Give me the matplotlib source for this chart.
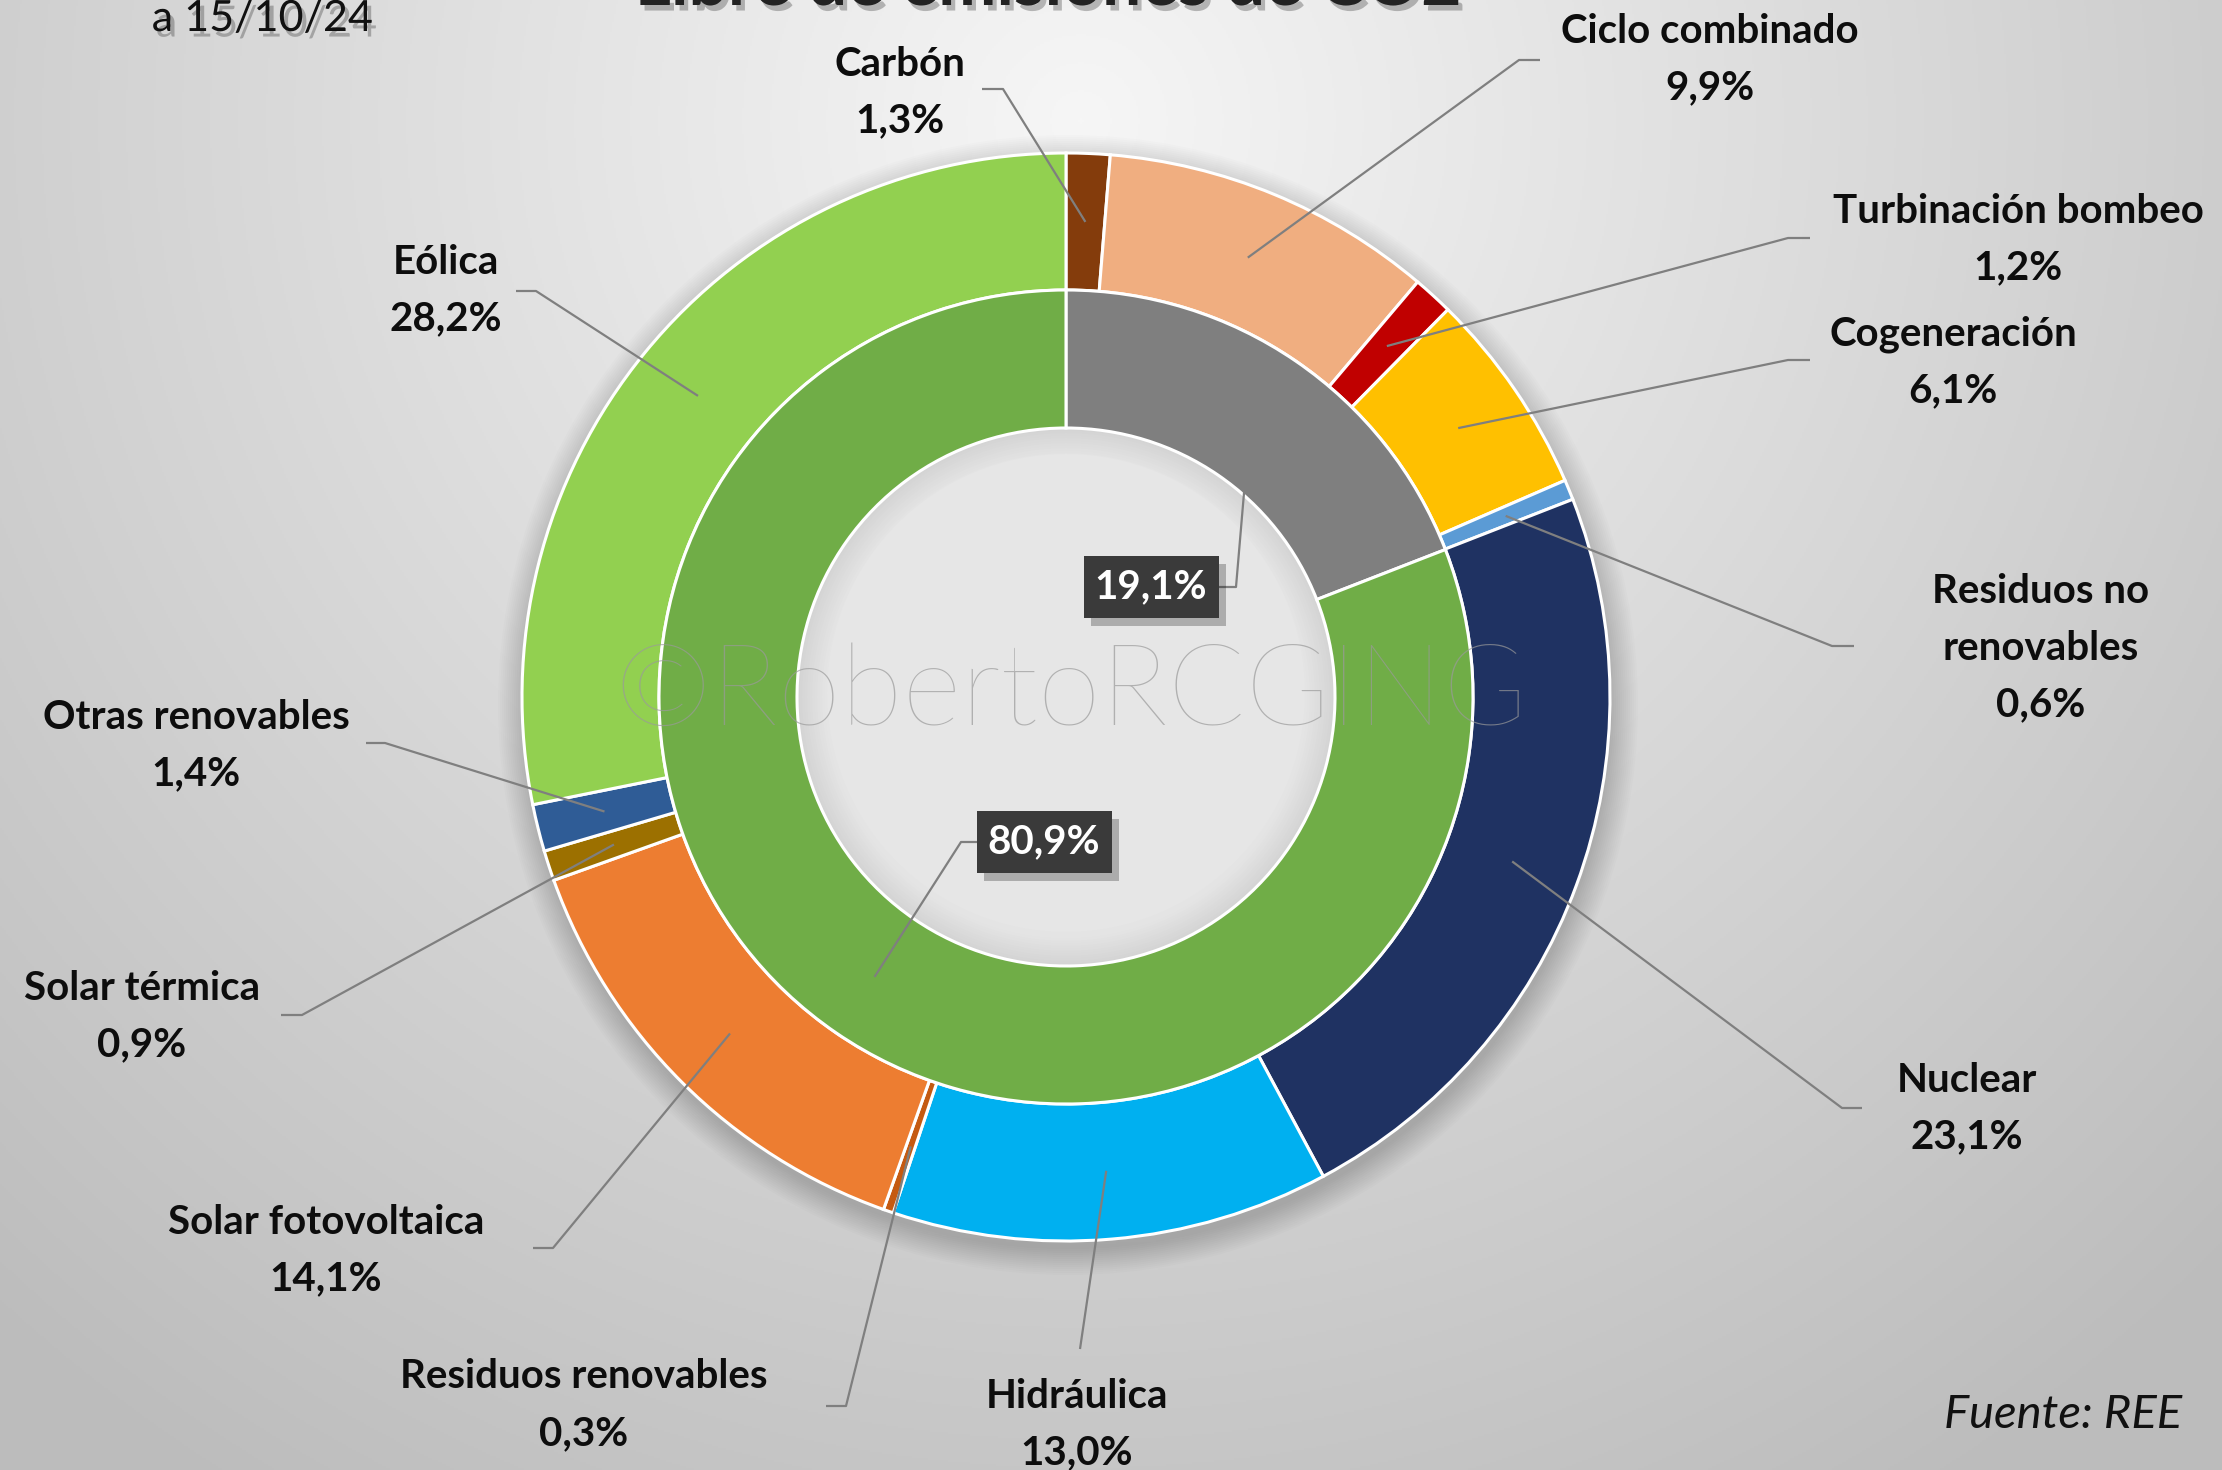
import numpy as np
import matplotlib
matplotlib.use("Agg")
import matplotlib.pyplot as plt
import matplotlib.patheffects as pe
from matplotlib.patches import Rectangle

W, H = 2222, 1470

# datos (REE, a 15/10/24)
outer_labels = ["Carbón", "Ciclo combinado", "Turbinación bombeo", "Cogeneración",
                "Residuos no\nrenovables", "Nuclear", "Hidráulica", "Residuos renovables",
                "Solar fotovoltaica", "Solar térmica", "Otras renovables", "Eólica"]
outer_values = [1.3, 9.9, 1.2, 6.1, 0.6, 23.1, 13.0, 0.3, 14.1, 0.9, 1.4, 28.2]
outer_colors = ["#843C0C", "#F0AE80", "#C00000", "#FFC000", "#5B9BD5", "#1F3262",
                "#00B0F0", "#C55A11", "#ED7D31", "#9C7000", "#2F5C96", "#92D050"]

inner_labels = ["Con emisiones", "Libre de emisiones"]
inner_values = [19.1, 80.9]
inner_colors = ["#7F7F7F", "#70AD47"]

# layout (pixels, y from top): text position, elbow, end of horizontal
label_pos = {
    "Carbón": ((900, 64), (1003, 89), (982, 89)),
    "Ciclo combinado": ((1710, 31), (1519, 60), (1540, 60)),
    "Turbinación bombeo": ((2018, 211), (1788, 238), (1810, 238)),
    "Cogeneración": ((1953, 334), (1788, 360), (1810, 360)),
    "Residuos no\nrenovables": ((2041, 591), (1832, 646), (1854, 646)),
    "Nuclear": ((1967, 1080), (1842, 1108), (1862, 1108)),
    "Hidráulica": ((1077, 1396), (1080, 1349), (1080, 1349)),
    "Residuos renovables": ((584, 1377), (846, 1406), (826, 1406)),
    "Solar fotovoltaica": ((326, 1222), (553, 1248), (533, 1248)),
    "Solar térmica": ((142, 988), (302, 1015), (281, 1015)),
    "Otras renovables": ((196, 717), (385, 743), (366, 743)),
    "Eólica": ((446, 262), (536, 291), (516, 291)),
}

cx, cy = 1066, 697
R_out, R_mid, R_in = 544, 407, 269
LINE = 57
FONT = "Lato"
FS = 29


def Y(y):
    return H - y


def pct(v):
    return f"{v:.1f}%".replace(".", ",")


def mid_point(values, i, r):
    total = sum(values)
    frac = (sum(values[:i]) + values[i] / 2) / total
    ang = np.deg2rad(90 - 360 * frac)
    return cx + r * np.cos(ang), Y(cy) + r * np.sin(ang)


fig = plt.figure(figsize=(W / 100, H / 100), dpi=100)
ax = fig.add_axes([0, 0, 1, 1])

# fondo con degradado radial (claro arriba en el centro)
xx, yy = np.meshgrid(np.arange(0, W, 2), np.arange(0, H, 2))
d = np.hypot(xx - 1080, yy - 120) / 1500
bg = np.clip(0.965 - 0.21 * d, 0.74, 1)
ax.imshow(np.dstack([bg, bg, bg]), extent=(0, W, 0, H), zorder=0, origin="upper")

# sombra del anillo
for k in range(14):
    ax.add_patch(plt.Circle((cx + 2, Y(cy) - 8), R_out + 26 - k * 2, color="black",
                            alpha=0.012, lw=0, zorder=1))

# hueco central
for k in range(12):
    shade = 0.83 + k * 0.006
    ax.add_patch(plt.Circle((cx, Y(cy)), R_in - k * 2.5, color=(shade, shade, shade),
                            lw=0, zorder=1))
ax.add_patch(plt.Circle((cx, Y(cy) + 4), R_in - 30, color="#e6e6e6", lw=0, zorder=1))

explode = [0.0] * len(outer_values)
explode[1] = 0.012
ax.pie(outer_values, colors=outer_colors, radius=R_out, center=(cx, Y(cy)),
       startangle=90, counterclock=False, explode=explode, frame=True,
       wedgeprops=dict(width=R_out - R_mid, edgecolor="white", linewidth=2.2, zorder=3))
ax.pie(inner_values, colors=inner_colors, radius=R_mid, center=(cx, Y(cy)),
       startangle=90, counterclock=False, frame=True,
       wedgeprops=dict(width=R_mid - R_in, edgecolor="white", linewidth=2.2, zorder=3))
ax.set_xlim(0, W)
ax.set_ylim(0, H)
ax.set_aspect("equal")
ax.axis("off")

# marca de agua
ax.text(1071, Y(694), "©RobertoRCGING", fontsize=82, family=FONT, fontweight="light",
        color="#9a9a9a", alpha=0.7, ha="center", va="center", zorder=4)

# etiquetas del anillo exterior
r_lab = (R_out + R_mid) / 2
for i, (lab, val) in enumerate(zip(outer_labels, outer_values)):
    (tx, ty), (bx, by), (ex, ey) = label_pos[lab]
    px, py = mid_point(outer_values, i, r_lab)
    ax.plot([px, bx, ex], [py, Y(by), Y(ey)], color="#7f7f7f", lw=1.6, zorder=5,
            solid_capstyle="butt")
    lines = lab.split("\n") + [pct(val)]
    for j, s in enumerate(lines):
        ax.text(tx, Y(ty + j * LINE), s, fontsize=FS, family=FONT, fontweight="bold",
                color="#0d0d0d", ha="center", va="center", zorder=6)

# etiquetas del anillo interior (cajas)
box_pos = [((1151, 587), (1236, 587), (1219, 587)),
           ((1044, 842), (961, 842), (979, 842))]
box_w, box_h = 135, 62
for i, val in enumerate(inner_values):
    (tx, ty), (bx, by), (ex, ey) = box_pos[i]
    if i == 0:
        px, py = cx + 178, Y(cy - 204)
    else:
        px, py = mid_point(inner_values, i, (R_mid + R_in) / 2)
    ax.plot([px, bx, ex], [py, Y(by), Y(ey)], color="#7f7f7f", lw=1.6, zorder=5)
    ax.add_patch(Rectangle((tx - box_w / 2 + 7, Y(ty) - box_h / 2 - 8), box_w, box_h,
                           fc="black", ec="none", alpha=0.25, zorder=6))
    ax.add_patch(Rectangle((tx - box_w / 2, Y(ty) - box_h / 2), box_w, box_h,
                           fc="#3a3a3a", ec="none", zorder=6))
    ax.text(tx, Y(ty), pct(val), fontsize=FS, family=FONT, fontweight="bold",
            color="white", ha="center", va="center", zorder=7)

# textos
shadow = [pe.withSimplePatchShadow(offset=(3, -4), shadow_rgbFace="black", alpha=0.25)]
ax.text(1049, Y(5), "Libre de emisiones de CO2", fontsize=50, family=FONT,
        fontweight="bold", color="#222222", ha="center", va="baseline", zorder=6,
        path_effects=shadow)
ax.text(262, Y(31), "a 15/10/24", fontsize=31, family=FONT, fontweight="normal",
        color="#111111", ha="center", va="baseline", zorder=6, path_effects=shadow)
ax.text(2182, Y(1428), "Fuente: REE", fontsize=34, family=FONT, fontweight="normal",
        style="italic", color="#111111", ha="right", va="baseline", zorder=6)

fig.savefig("out.png", dpi=100)
